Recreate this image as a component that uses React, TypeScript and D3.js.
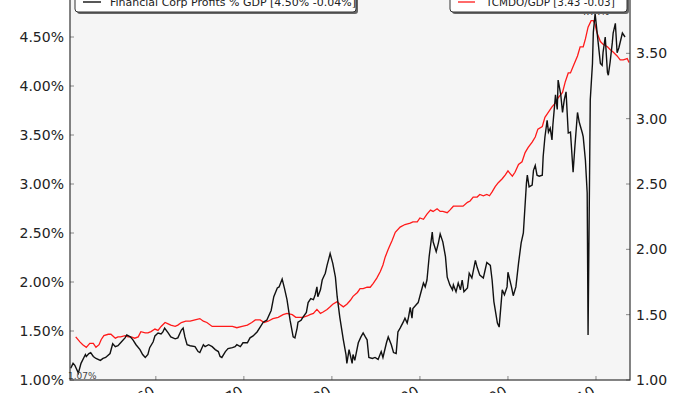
import * as d3 from "d3";
import React from "react";

// financial corp profits as % of GDP (left axis)
const finYears = [
  1950.33, 1950.6, 1950.8, 1951.2, 1951.5, 1952.0, 1952.1, 1952.4, 1952.6, 1952.9,
  1953.2, 1953.7, 1954.0, 1954.3, 1954.8, 1955.1, 1955.4, 1955.7, 1956.0, 1956.5,
  1956.7, 1957.1, 1957.4, 1957.75, 1958.2, 1958.5, 1958.8, 1959.1, 1959.3, 1959.7,
  1959.9, 1960.25, 1960.6, 1960.8, 1961.0, 1961.4, 1961.7, 1962.2, 1962.5, 1962.9,
  1963.1, 1963.3, 1963.55, 1963.9, 1964.45, 1964.8, 1965.0, 1965.4, 1965.6, 1966.0,
  1966.4, 1966.75, 1967.1, 1967.3, 1967.5, 1967.9, 1968.2, 1968.7, 1969.0, 1969.2,
  1969.6, 1969.9, 1970.4, 1970.7, 1971.05, 1971.5, 1971.85, 1972.2, 1972.6, 1973.1,
  1973.4, 1973.8, 1974.0, 1974.35, 1974.6, 1974.9, 1975.25, 1975.6, 1975.8, 1976.05,
  1976.15, 1976.5, 1976.7, 1977.1, 1977.3, 1977.6, 1977.9, 1978.1, 1978.3, 1978.4,
  1978.7, 1978.9, 1979.0, 1979.25, 1979.45, 1979.6, 1979.8, 1980.1, 1980.4, 1980.6,
  1980.9, 1981.3, 1981.6, 1981.7, 1981.95, 1982.3, 1982.4, 1982.6, 1983.0, 1983.3,
  1983.55, 1983.8, 1984.0, 1984.2, 1984.6, 1984.9, 1985.25, 1985.6, 1985.8, 1986.2,
  1986.4, 1986.75, 1987.0, 1987.3, 1987.5, 1987.75, 1988.1, 1988.3, 1988.55, 1988.7,
  1988.9, 1989.1, 1989.2, 1989.6, 1989.8, 1990.1, 1990.4, 1990.6, 1990.8, 1991.05,
  1991.4, 1991.5, 1991.85, 1992.1, 1992.3, 1992.6, 1992.9, 1993.1, 1993.4, 1993.7,
  1993.8, 1994.1, 1994.35, 1994.6, 1994.8, 1995.0, 1995.4, 1995.6, 1995.9, 1996.3,
  1996.5, 1996.8, 1997.2, 1997.4, 1997.6, 1998.0, 1998.2, 1998.4, 1998.8, 1999.0,
  1999.35, 1999.6, 1999.9, 2000.0, 2000.4, 2000.6, 2000.9, 2001.2, 2001.5, 2001.75,
  2002.1, 2002.2, 2002.4, 2002.75, 2002.9, 2003.1, 2003.3, 2003.55, 2003.9, 2004.0,
  2004.2, 2004.45, 2004.6, 2004.8, 2005.0, 2005.1, 2005.4, 2005.6, 2005.7, 2006.0,
  2006.2, 2006.4, 2006.6, 2006.85, 2007.1, 2007.4, 2007.6, 2007.9, 2008.1, 2008.45,
  2008.55, 2008.8, 2009.0, 2009.1, 2009.35, 2009.6, 2009.7, 2009.9, 2010.1, 2010.25,
  2010.5, 2010.7, 2010.8, 2011.05, 2011.3, 2011.4, 2011.6, 2011.85, 2011.95, 2012.2,
  2012.4, 2012.6, 2013.0, 2013.3,
];
const finPct = [
  1.12, 1.17, 1.15, 1.07, 1.17, 1.26, 1.24, 1.27, 1.28, 1.24,
  1.22, 1.2, 1.22, 1.23, 1.27, 1.37, 1.34, 1.35, 1.38, 1.43,
  1.46, 1.44, 1.41, 1.36, 1.31, 1.26, 1.23, 1.26, 1.33, 1.39,
  1.45, 1.48, 1.47, 1.49, 1.53, 1.48, 1.44, 1.42, 1.43, 1.51,
  1.53, 1.44, 1.36, 1.35, 1.34, 1.29, 1.28, 1.36, 1.34, 1.36,
  1.34, 1.31, 1.29, 1.24, 1.23, 1.29, 1.32, 1.33, 1.34, 1.36,
  1.34, 1.38, 1.38, 1.43, 1.45, 1.49, 1.54, 1.59, 1.61, 1.71,
  1.85, 1.94, 1.95, 2.03, 1.94, 1.82, 1.61, 1.44, 1.43, 1.53,
  1.59, 1.61, 1.64, 1.69, 1.79, 1.83, 1.82, 1.87, 1.95, 1.85,
  1.92, 2.02, 2.04, 2.09, 2.17, 2.22, 2.29, 2.19, 2.05, 1.85,
  1.64, 1.41, 1.26, 1.17, 1.31, 1.17, 1.26, 1.2, 1.38, 1.44,
  1.48, 1.44, 1.41, 1.23, 1.22, 1.23, 1.21, 1.29, 1.23, 1.38,
  1.44, 1.36, 1.28, 1.27, 1.49, 1.53, 1.59, 1.63, 1.58, 1.64,
  1.74, 1.63, 1.73, 1.77, 1.79, 1.89, 1.99, 1.95, 2.02, 2.26,
  2.51, 2.41, 2.31, 2.4, 2.49, 2.41, 2.26, 2.05, 1.97, 1.92,
  1.97, 1.9, 1.99, 1.92, 2.02, 1.9, 1.94, 2.09, 2.04, 2.22,
  2.15, 2.07, 2.04, 2.12, 2.2, 2.17, 2.02, 1.8, 1.58, 1.54,
  1.92, 1.87, 1.95, 2.1, 1.95, 1.86, 1.95, 2.19, 2.4, 2.5,
  3.01, 3.09, 2.97, 2.99, 3.14, 3.19, 3.09, 3.08, 3.09, 3.28,
  3.48, 3.65, 3.53, 3.57, 3.45, 3.6, 3.91, 3.76, 4.06, 3.91,
  3.73, 3.86, 3.94, 3.52, 3.53, 3.12, 3.38, 3.73, 3.63, 3.52,
  3.48, 3.24, 2.91, 1.46, 3.86, 4.23, 4.55, 4.74, 4.57, 4.44,
  4.23, 4.21, 4.34, 4.5, 4.14, 4.11, 4.24, 4.44, 4.54, 4.64,
  4.34, 4.39, 4.54, 4.5,
];

// total credit market debt owed / GDP (right axis)
const debtYears = [
  1950.9, 1951.4, 1951.7, 1952.1, 1952.5, 1952.9, 1953.2, 1953.55, 1953.8, 1954.1,
  1954.6, 1954.9, 1955.4, 1955.7, 1956.0, 1956.5, 1956.85, 1957.2, 1957.6, 1958.0,
  1958.3, 1958.8, 1959.1, 1959.45, 1959.9, 1960.25, 1960.6, 1961.05, 1961.4, 1961.7,
  1962.2, 1962.5, 1962.9, 1963.4, 1963.9, 1964.45, 1965.0, 1965.4, 1965.8, 1966.4,
  1966.95, 1967.5, 1968.1, 1968.7, 1969.2, 1969.8, 1970.4, 1970.9, 1971.3, 1971.85,
  1972.3, 1972.75, 1973.3, 1973.9, 1974.45, 1974.9, 1975.5, 1975.9, 1976.4, 1976.7,
  1977.2, 1977.5, 1977.9, 1978.3, 1978.7, 1979.0, 1979.45, 1979.8, 1980.1, 1980.6,
  1980.9, 1981.3, 1981.7, 1982.1, 1982.4, 1982.9, 1983.2, 1983.55, 1984.0, 1984.35,
  1984.7, 1985.1, 1985.5, 1985.8, 1986.05, 1986.4, 1986.85, 1987.2, 1987.75, 1988.3,
  1988.9, 1989.2, 1989.7, 1990.0, 1990.4, 1990.8, 1991.2, 1991.5, 1991.95, 1992.3,
  1992.6, 1993.1, 1993.4, 1993.8, 1994.2, 1994.6, 1994.9, 1995.4, 1995.7, 1996.05,
  1996.5, 1996.8, 1997.2, 1997.6, 1997.9, 1998.2, 1998.55, 1998.9, 1999.35, 1999.7,
  2000.0, 2000.25, 2000.5, 2000.8, 2001.2, 2001.6, 2001.95, 2002.3, 2002.75, 2003.1,
  2003.4, 2003.9, 2004.2, 2004.6, 2005.0, 2005.4, 2005.7, 2006.2, 2006.5, 2006.85,
  2007.1, 2007.4, 2007.9, 2008.2, 2008.55, 2008.8, 2009.1, 2009.45, 2009.7, 2009.9,
  2010.1, 2010.5, 2010.8, 2011.3, 2011.6, 2011.95, 2012.4, 2012.75, 2013.1, 2013.55,
  2013.75,
];
const debtRatio = [
  1.33, 1.29, 1.27, 1.25, 1.28, 1.28, 1.25, 1.27, 1.31, 1.34,
  1.35, 1.35, 1.32, 1.33, 1.33, 1.34, 1.33, 1.33, 1.32, 1.33,
  1.37, 1.36, 1.36, 1.37, 1.39, 1.38, 1.41, 1.44, 1.43, 1.42,
  1.41, 1.42, 1.44, 1.45, 1.45, 1.46, 1.47, 1.45, 1.44, 1.41,
  1.41, 1.41, 1.41, 1.41, 1.4, 1.41, 1.42, 1.44, 1.46, 1.46,
  1.44, 1.45, 1.47, 1.48, 1.5, 1.51, 1.5, 1.48, 1.48, 1.48,
  1.49, 1.5, 1.51, 1.54, 1.51, 1.52, 1.54, 1.56, 1.58, 1.6,
  1.58, 1.56, 1.58, 1.61, 1.64, 1.67, 1.7, 1.7, 1.71, 1.71,
  1.74, 1.78, 1.83, 1.88, 1.94, 2.0, 2.07, 2.13, 2.17, 2.19,
  2.2, 2.21, 2.21, 2.24, 2.23, 2.27, 2.3, 2.29, 2.31, 2.29,
  2.29, 2.28, 2.3, 2.33, 2.33, 2.33, 2.33, 2.36, 2.37, 2.4,
  2.4, 2.42, 2.41, 2.42, 2.41, 2.44, 2.48, 2.51, 2.54, 2.57,
  2.6, 2.58, 2.56, 2.59, 2.65, 2.67, 2.74, 2.78, 2.82, 2.86,
  2.92, 2.94, 3.01, 3.05, 3.09, 3.12, 3.16, 3.2, 3.28, 3.35,
  3.35, 3.4, 3.48, 3.55, 3.55, 3.61, 3.7, 3.75, 3.75, 3.72,
  3.66, 3.59, 3.57, 3.55, 3.53, 3.51, 3.48, 3.45, 3.45, 3.46,
  3.43,
];

const yearTicks = [1960, 1970, 1980, 1990, 2000, 2010];
// only the ticks that fall inside the visible window
const leftTicks = [1.0, 1.5, 2.0, 2.5, 3.0, 3.5, 4.0, 4.5];
const rightTicks = [1.0, 1.5, 2.0, 2.5, 3.0, 3.5];
const finLabel = "Financial Corp Profits % GDP [4.50% -0.04%]";
const debtLabel = "TCMDO/GDP [3.43 -0.03]";

const W = 700;
const H = 393;
const left = 70;
const right = 630;
const top = -12;
const bottom = 380;
const font = "DejaVu Sans, sans-serif";

export default function App() {
  const x = d3.scaleLinear().domain([1950.25, 2013.75]).range([left, right - 1]);
  const yL = d3.scaleLinear().domain([1, 5]).range([bottom, top]);
  const yR = d3.scaleLinear().domain([1, 4]).range([bottom, top]);

  const finLine = d3
    .line<number>()
    .x((d, i) => x(finYears[i]))
    .y((d) => yL(d));
  const debtLine = d3
    .line<number>()
    .x((d, i) => x(debtYears[i]))
    .y((d) => yR(d));

  const minI = finPct.indexOf(d3.min(finPct) as number);
  const maxI = finPct.indexOf(d3.max(finPct) as number);

  return (
    <svg
      width={W}
      height={H}
      style={{ position: "absolute", left: 0, top: 0, background: "#fff" }}
      fontFamily={font}
    >
      <defs>
        <clipPath id="plot">
          <rect x={left} y={top} width={right - left} height={bottom - top} />
        </clipPath>
      </defs>
      <rect x={left} y={top} width={right - left} height={bottom - top} fill="#f5f5f5" />

      <g clipPath="url(#plot)">
        <path d={debtLine(debtRatio) || ""} fill="none" stroke="#ff1a1a" strokeWidth={1.3} />
        <path d={finLine(finPct) || ""} fill="none" stroke="#111" strokeWidth={1.4} />
      </g>

      {/* min / max notes */}
      <text x={left - 2} y={bottom - 1} fontSize={9} fill="#444">
        {finPct[minI].toFixed(2)}%
      </text>
      <text x={x(finYears[maxI])} y={15} fontSize={9} fill="#222" textAnchor="middle">
        {finPct[maxI].toFixed(2)}%
      </text>

      {/* ticks */}
      {leftTicks.map((t) => (
        <g key={"l" + t}>
          <line x1={left} x2={left + 4} y1={yL(t)} y2={yL(t)} stroke="#888" />
          <text x={left - 6} y={yL(t)} dy="0.35em" textAnchor="end" fontSize={14} fill="#222">
            {t.toFixed(2)}%
          </text>
        </g>
      ))}
      {rightTicks.map((t) => (
        <g key={"r" + t}>
          <line x1={right - 4} x2={right} y1={yR(t)} y2={yR(t)} stroke="#888" />
          <text x={right + 6} y={yR(t)} dy="0.35em" fontSize={14} fill="#222">
            {t.toFixed(2)}
          </text>
        </g>
      ))}
      {yearTicks.map((t) => (
        <g key={"x" + t}>
          <line x1={x(t)} x2={x(t)} y1={bottom} y2={bottom - 4} stroke="#888" />
          <text
            transform={`translate(${x(t)},${bottom + 14}) rotate(-30)`}
            textAnchor="end"
            fontSize={14}
            fill="#222"
          >
            {t}
          </text>
        </g>
      ))}

      {/* frame */}
      <rect
        x={left}
        y={top}
        width={right - left}
        height={bottom - top}
        fill="none"
        stroke="#333"
        strokeWidth={1.2}
      />

      {/* legends */}
      <rect x={77} y={-8} width={281} height={22} rx={3} fill="#666" />
      <rect x={75} y={-10} width={281} height={22} rx={3} fill="#fff" stroke="#333" />
      <line x1={83} x2={101} y1={2} y2={2} stroke="#111" strokeWidth={1.4} />
      <text x={110} y={6} fontSize={11} fill="#222">
        {finLabel}
      </text>

      <rect x={452} y={-8} width={177} height={22} rx={3} fill="#666" />
      <rect x={450} y={-10} width={177} height={22} rx={3} fill="#fff" stroke="#333" />
      <line x1={458} x2={475} y1={2} y2={2} stroke="#ff1a1a" strokeWidth={1.3} />
      <text x={486} y={6} fontSize={10.4} fill="#222">
        {debtLabel}
      </text>
    </svg>
  );
}
